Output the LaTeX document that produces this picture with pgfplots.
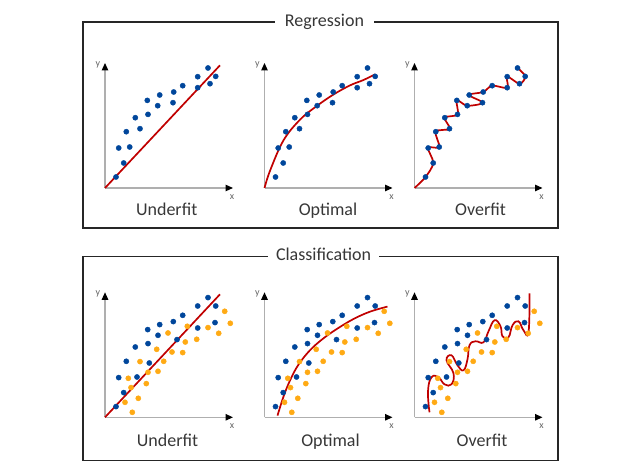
\documentclass[border=0pt]{standalone}
\usepackage{fontspec}
\setmainfont{Carlito}
\usepackage{pgfplots}
\pgfplotsset{compat=1.18}
\usepackage{pgfplotstable}
\usetikzlibrary{arrows.meta}

\definecolor{dblue}{RGB}{0,70,155}
\definecolor{dorange}{RGB}{255,170,20}
\definecolor{dred}{RGB}{192,0,0}
\definecolor{axgray}{RGB}{175,175,175}
\definecolor{txt}{RGB}{55,55,55}

\pgfplotstableread{
x y
11 11
18.7 25
13.7 40
24.7 41
21.3 56.3
35 59.3
30.3 70.3
43 73.6
42.3 87.6
52.7 82.3
54.7 93
68 85.3
68.7 96
77.7 102.3
92.7 100.3
92.7 111.3
103 120
105 104.3
110.7 111.6
}\regblue

\pgfplotstableread{
x y
11 10.7
18.7 24.7
13.7 39.7
32 40.3
21.3 56
44.3 54.3
30.3 70.3
43 73.7
42.7 87.7
53 82
54.7 92.7
68.3 95.7
72 77.7
77.7 102
92.7 111.3
92.7 89.3
103 119.7
110.7 111.3
110 94.7
}\clsblue

\pgfplotstableread{
x y
27.3 5
20 15
33.3 19
26 29.7
23.3 39
41.3 33.7
35 55.7
43 45
53 46
58.7 56
51.7 68
67 65.3
77.7 64.7
63 84.3
80.3 75.3
82.3 91
91.7 78
103 89.7
113.7 84
119.7 106
125.3 94
}\clsorange

\pgfplotsset{
  panel/.style={
    x=1bp, y=1bp, xmin=0, xmax=128, ymin=0, ymax=125,
    axis lines=left, xtick=\empty, ytick=\empty,
    axis line style={draw=axgray, line width=1.2bp,
      -{Triangle[color=black, fill=black, length=7.5bp, width=6.5bp]}},
    clip=false, anchor=origin,
  },
  bluedots/.style={only marks, mark=*, mark size=2.6bp,
    mark options={draw=dblue, fill=dblue}},
  orangedots/.style={only marks, mark=*, mark size=2.6bp,
    mark options={draw=dorange, fill=dorange}},
  fitline/.style={draw=dred, line width=1.7bp, no markers},
}

\newcommand{\xylabels}{%
  \node[font=\fontsize{10bp}{11bp}\selectfont, text=black!60] at (axis cs:-7,123) {y};
  \node[font=\fontsize{10bp}{11bp}\selectfont, text=black!60] at (axis cs:127,-9) {x};
}
\newcommand{\paneltitle}[3]{%
  \node[font=\fontsize{18bp}{20bp}\selectfont, text=txt, anchor=base] at (axis cs:#1,#2) {#3};
}

\begin{document}
\begin{tikzpicture}[x=1bp, y=1bp]
\useasboundingbox (0,0) rectangle (631,470);

% frames
\draw[line width=1.2bp, black!85] (83,242) rectangle (558,448);
\node[fill=white, inner xsep=10bp, inner ysep=1bp, anchor=base,
  font=\fontsize{18bp}{20bp}\selectfont, text=txt] at (324.5,443) {Regression};
\draw[line width=1.2bp, black!85] (83,9.3) rectangle (558,213.3);
\node[fill=white, inner xsep=8bp, inner ysep=1bp, anchor=base,
  font=\fontsize{18bp}{20bp}\selectfont, text=txt] at (323.5,209) {Classification};

% ---------- Regression: Underfit
\begin{axis}[panel, at={(105,282)}]
\addplot[bluedots] table {\regblue};
\addplot[fitline] coordinates {(0,0) (115,122.7)};
\xylabels
\paneltitle{61.7}{-28}{Underfit}
\end{axis}

% ---------- Regression: Optimal
\begin{axis}[panel, at={(264.5,282)}]
\addplot[bluedots] table {\regblue};
\addplot[fitline, smooth, tension=0.6] coordinates {
(0,0) (5.7,17.7) (19,47.7) (35.7,68.5) (52.3,82) (69,93.5) (85.7,102.7) (99,108) (110.7,113.7)};
\xylabels
\paneltitle{63.5}{-28}{Optimal}
\end{axis}

% ---------- Regression: Overfit
\begin{axis}[panel, at={(414.5,282)}]
\addplot[fitline, smooth, tension=0.55] coordinates {
(0,0) (11,11) (18.7,25) (13.7,40) (24.7,41) (21.3,56.3) (35,59.3) (30.3,70.3)
(43,73.6) (42.3,87.6) (52.7,82.3) (68,85.3) (54.7,93) (68.7,96) (77.7,102.3)
(92.7,100.3) (92.7,111.3) (105,104.3) (110.7,111.6) (103,120)};
\addplot[bluedots] table {\regblue};
\xylabels
\paneltitle{66}{-28}{Overfit}
\end{axis}

% ---------- Classification: Underfit
\begin{axis}[panel, at={(105,52.7)}]
\addplot[bluedots] table {\clsblue};
\addplot[orangedots] table {\clsorange};
\addplot[fitline] coordinates {(0,0) (115,123)};
\xylabels
\paneltitle{62.5}{-29}{Underfit}
\end{axis}

% ---------- Classification: Optimal
\begin{axis}[panel, at={(264.5,52.7)}]
\addplot[bluedots] table {\clsblue};
\addplot[orangedots] table {\clsorange};
\addplot[fitline, smooth, tension=0.6] coordinates {
(13,1.7) (19,20.7) (25.7,37.3) (34,52.7) (45.7,67.3) (59,79) (72.3,88.3) (89,98.3) (105.7,105.7) (123,110.7)};
\xylabels
\paneltitle{66}{-29}{Optimal}
\end{axis}

% ---------- Classification: Overfit
\begin{axis}[panel, at={(414.5,52.7)}]
\addplot[bluedots] table {\clsblue};
\addplot[orangedots] table {\clsorange};
\addplot[fitline, smooth, tension=0.75] coordinates {
(15,5) (13.5,26) (17,40) (24,40) (30,33) (37,33) (39,44)
(32,57) (37,62) (43,52) (49,47) (53,58) (55,72) (61,76)
(69,75) (74,86) (80,97) (86,91) (88,81) (94,80) (98,92)
(104,96) (109,87) (114,85) (115,124)};
\xylabels
\paneltitle{67.5}{-29}{Overfit}
\end{axis}

\end{tikzpicture}
\end{document}
